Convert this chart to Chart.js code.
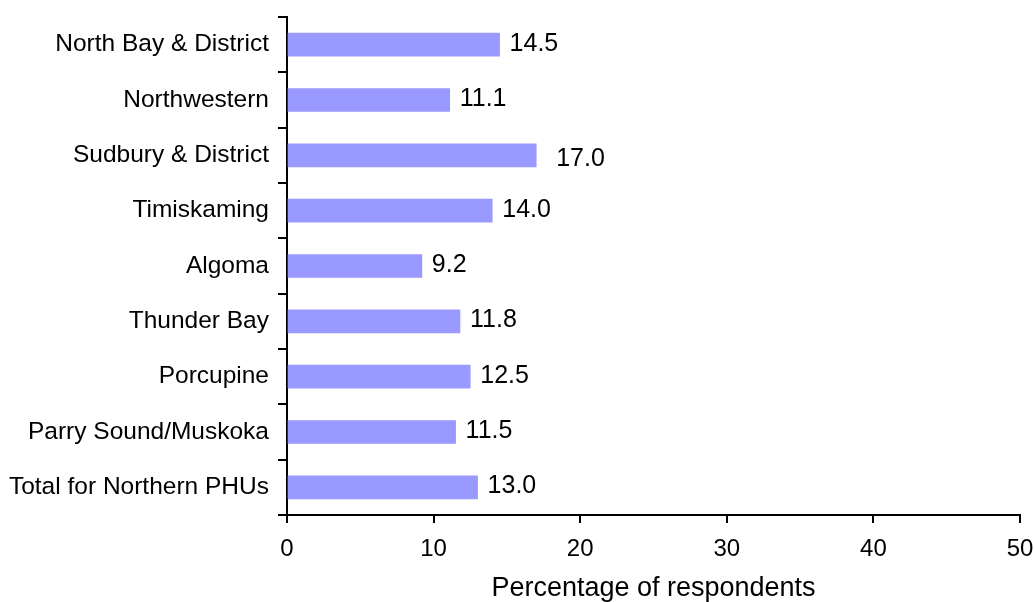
<!DOCTYPE html>
<html>
<head>
<meta charset="utf-8">
<title>Percentage of respondents by Northern PHU</title>
<script src="https://cdn.jsdelivr.net/npm/chart.js@4/dist/chart.umd.min.js"></script>
<style>
  html, body { margin: 0; padding: 0; background: #ffffff; }
  #wrap { width: 1034px; height: 602px; }
</style>
</head>
<body>
<div id="wrap"><canvas id="chart" width="1034" height="602"></canvas></div>
<script>
// Health units, top to bottom
const categories = [
  'North Bay & District',
  'Northwestern',
  'Sudbury & District',
  'Timiskaming',
  'Algoma',
  'Thunder Bay',
  'Porcupine',
  'Parry Sound/Muskoka',
  'Total for Northern PHUs'
];

// Percentage of respondents for each unit
const percentages = [14.5, 11.1, 17.0, 14.0, 9.2, 11.8, 12.5, 11.5, 13.0];

// Value axis range and step
const xMin = 0;
const xMax = 50;
const xStep = 10;

const FONT = '"Liberation Sans", Arial, Helvetica, sans-serif';

// Writes each bar's value just past its end
const valueLabels = {
  id: 'valueLabels',
  afterDatasetsDraw(chart, args, opts) {
    const ctx = chart.ctx;
    const meta = chart.getDatasetMeta(0);
    const data = chart.data.datasets[0].data;
    ctx.save();
    ctx.font = '25px ' + FONT;
    ctx.fillStyle = '#000000';
    ctx.textAlign = 'left';
    ctx.textBaseline = 'middle';
    meta.data.forEach((bar, i) => {
      const nudge = (opts.nudge && opts.nudge[i]) || [0, 0];
      ctx.fillText(data[i].toFixed(1), bar.x + 10 + nudge[0], bar.y - 1 + nudge[1]);
    });
    ctx.restore();
  }
};

// Keep the plot edges exactly where the layout padding puts them
function noEdgePadding(scale) {
  scale.paddingTop = 0;
  scale.paddingBottom = 0;
  scale.paddingLeft = 0;
  scale.paddingRight = 0;
}

new Chart(document.getElementById('chart'), {
  type: 'bar',
  data: {
    labels: categories,
    datasets: [{
      data: percentages,
      backgroundColor: '#9999FF',
      borderWidth: 0,
      barThickness: 23
    }]
  },
  options: {
    indexAxis: 'y',
    responsive: false,
    animation: false,
    devicePixelRatio: 1,
    layout: { padding: { top: 17, right: 14, bottom: 0, left: 0 } },
    plugins: {
      legend: { display: false },
      tooltip: { enabled: false },
      valueLabels: { nudge: { 2: [10, 5] } }
    },
    scales: {
      x: {
        min: xMin,
        max: xMax,
        ticks: {
          stepSize: xStep,
          color: '#000000',
          font: { family: FONT, size: 24 },
          padding: 12,
          maxRotation: 0
        },
        grid: {
          drawOnChartArea: false,
          drawTicks: true,
          tickLength: 8,
          color: '#000000',
          lineWidth: 2
        },
        border: { color: '#000000', width: 2 },
        title: {
          display: true,
          text: 'Percentage of respondents',
          color: '#000000',
          font: { family: FONT, size: 27, lineHeight: 1 },
          padding: 0
        },
        afterFit(scale) { scale.height = 87; noEdgePadding(scale); }
      },
      y: {
        ticks: {
          color: '#000000',
          font: { family: FONT, size: 24.5 },
          padding: 9
        },
        grid: {
          offset: true,
          drawOnChartArea: false,
          drawTicks: true,
          tickLength: 9,
          color: '#000000',
          lineWidth: 2
        },
        border: { color: '#000000', width: 2 },
        afterFit(scale) { scale.width = 287; noEdgePadding(scale); }
      }
    }
  },
  plugins: [valueLabels]
});
</script>
</body>
</html>
